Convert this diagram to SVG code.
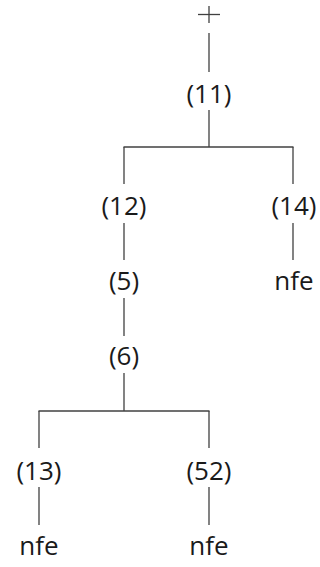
<svg xmlns="http://www.w3.org/2000/svg" width="320" height="567" viewBox="0 0 320 567">
<style>
.t{font-family:"Open Sans","Noto Sans","Liberation Sans",sans-serif;font-size:26px;fill:#1a1a1a;text-anchor:middle}
.c line{stroke:#404040;stroke-width:1.3}
</style>
<rect width="320" height="567" fill="#fff"/>
<g id="connectors" class="c">
<line x1="198" y1="14.5" x2="220" y2="14.5"/>
<line x1="209" y1="6" x2="209" y2="23"/>
<line x1="209" y1="33" x2="209" y2="72"/>
<line x1="209" y1="110" x2="209" y2="147"/>
<line x1="123.5" y1="147" x2="293.5" y2="147"/>
<line x1="124" y1="147" x2="124" y2="184"/>
<line x1="293" y1="147" x2="293" y2="184"/>
<line x1="124" y1="223" x2="124" y2="260"/>
<line x1="293" y1="223" x2="293" y2="260"/>
<line x1="124" y1="298" x2="124" y2="336"/>
<line x1="124" y1="373" x2="124" y2="411"/>
<line x1="38.5" y1="411" x2="209.5" y2="411"/>
<line x1="39" y1="411" x2="39" y2="448"/>
<line x1="209" y1="411" x2="209" y2="448"/>
<line x1="39" y1="487" x2="39" y2="525"/>
<line x1="209" y1="487" x2="209" y2="525"/>
</g>
<g id="n11"><text class="t" x="209" y="103">(11)</text></g>
<g id="n12"><text class="t" x="124" y="215">(12)</text></g>
<g id="n14"><text class="t" x="294" y="215">(14)</text></g>
<g id="n5"><text class="t" x="124" y="290">(5)</text></g>
<g id="nfe1"><text class="t" x="294" y="290">nfe</text></g>
<g id="n6"><text class="t" x="124" y="365">(6)</text></g>
<g id="n13"><text class="t" x="39" y="480">(13)</text></g>
<g id="n52"><text class="t" x="209" y="480">(52)</text></g>
<g id="nfe2"><text class="t" x="39" y="555">nfe</text></g>
<g id="nfe3"><text class="t" x="209" y="555">nfe</text></g>
</svg>
